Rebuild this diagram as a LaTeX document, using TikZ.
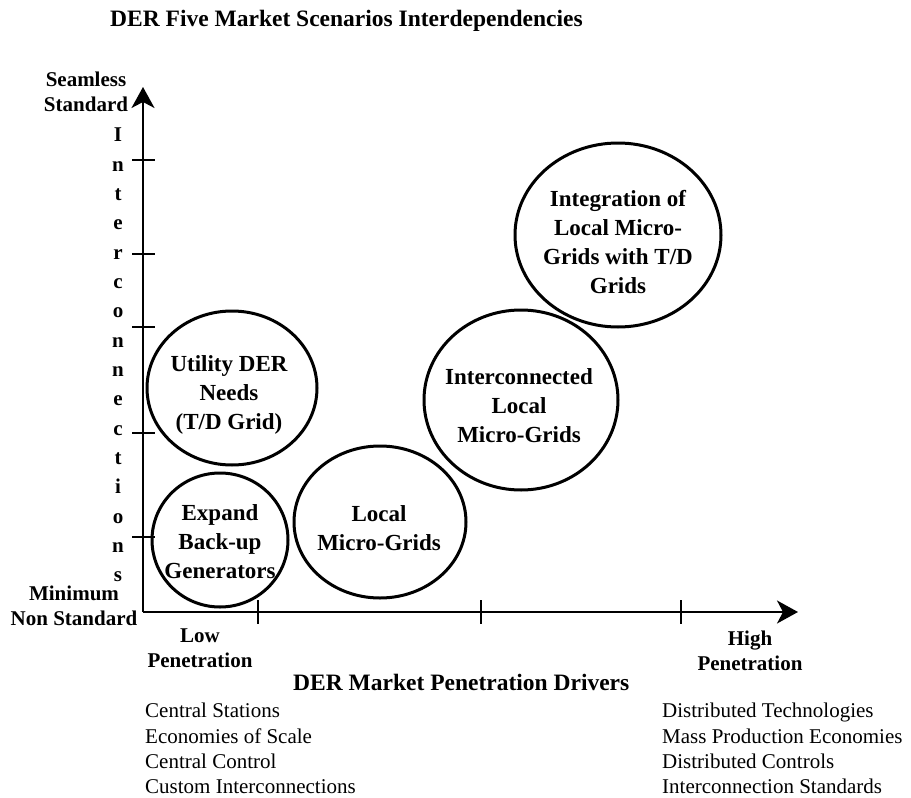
\documentclass[tikz,border=0pt]{standalone}
\usepackage{fontspec}
\setmainfont{Liberation Serif}
\usetikzlibrary{shapes.geometric,arrows.meta}
\begin{document}
\begin{tikzpicture}[x=1pt,y=-1pt,
  axis/.style={line width=2pt,-{Stealth[length=21pt,width=23pt,inset=6pt]}},
  tickmark/.style={line width=1.6pt},
  bubble/.style={draw,ellipse,line width=3pt,inner sep=0pt},
  ctext/.style={font=\bfseries\fontsize{23}{29}\selectfont,align=center,inner sep=0pt},
  alabel/.style={font=\bfseries\fontsize{21}{24.5}\selectfont,align=center,inner sep=0pt},
  ylab/.style={font=\bfseries\fontsize{21}{29.33}\selectfont,align=center,inner sep=0pt},
  bigtitle/.style={font=\bfseries\fontsize{23.5}{28}\selectfont,inner sep=0pt},
  drivers/.style={font=\fontsize{21}{25.3}\selectfont,align=left,inner sep=0pt}
]
\useasboundingbox (0,0) rectangle (911,798);

% title
\node[bigtitle,anchor=base west] (title) at (110,26) {DER Five Market Scenarios Interdependencies};

% axes
\coordinate (O) at (143,612);
\coordinate (ytip) at (143,87);
\coordinate (xtip) at (798,612);
\draw[axis] (O) -- (ytip);
\draw[axis] (O) -- (xtip);

% y ticks
\foreach \yy/\nm in {160/ya,254/yb,327/yc,433/yd,537/ye}{
  \coordinate (\nm l) at (132,\yy);
  \coordinate (\nm r) at (155,\yy);
  \draw[tickmark] (\nm l) -- (\nm r);
}
% x ticks
\foreach \xx/\nm in {258/xa,481/xb,681/xc}{
  \coordinate (\nm t) at (\xx,600);
  \coordinate (\nm b) at (\xx,624);
  \draw[tickmark] (\nm t) -- (\nm b);
}

% axis end labels
\node[alabel,anchor=north] (seam) at (86,72) {Seamless\\Standard};
\node[alabel,anchor=north] (minim) at (74,586) {Minimum\\Non Standard};
\node[alabel,anchor=north] (low) at (200,629) {Low\\Penetration};
\node[alabel,anchor=north] (high) at (750,631) {High\\Penetration};

% vertical axis title
\node[ylab,anchor=north] (ytitle) at (118,128) {I\\n\\t\\e\\r\\c\\o\\n\\n\\e\\c\\t\\i\\o\\n\\s};

% horizontal axis title
\node[bigtitle,anchor=base west] (xtitle) at (293,690) {DER Market Penetration Drivers};

% driver lists
\node[drivers,anchor=north west] (leftlist) at (145,703) {Central Stations\\Economies of Scale\\Central Control\\Custom Interconnections};
\node[drivers,anchor=north west] (rightlist) at (662,703) {Distributed Technologies\\Mass Production Economies\\Distributed Controls\\Interconnection Standards};

% scenario bubbles
\node[bubble,minimum width=136pt,minimum height=134pt] (c1) at (220,540) {};
\node[bubble,minimum width=170pt,minimum height=154pt] (c2) at (232,388) {};
\node[bubble,minimum width=172pt,minimum height=152pt] (c3) at (380,522) {};
\node[bubble,minimum width=194pt,minimum height=180pt] (c4) at (521,400) {};
\node[bubble,minimum width=206pt,minimum height=184pt] (c5) at (618,235) {};

\node[ctext] (t1) at (220,542) {Expand\\Back-up\\Generators};
\node[ctext] (t2) at (229,395) {Utility DER\\Needs\\(T/D Grid)};
\node[ctext] (t3) at (379,528) {Local\\Micro-Grids};
\node[ctext] (t4) at (519,406) {Interconnected\\Local\\Micro-Grids};
\node[ctext] (t5) at (618,242) {Integration of\\Local Micro-\\Grids with T/D\\Grids};
\end{tikzpicture}
\end{document}
